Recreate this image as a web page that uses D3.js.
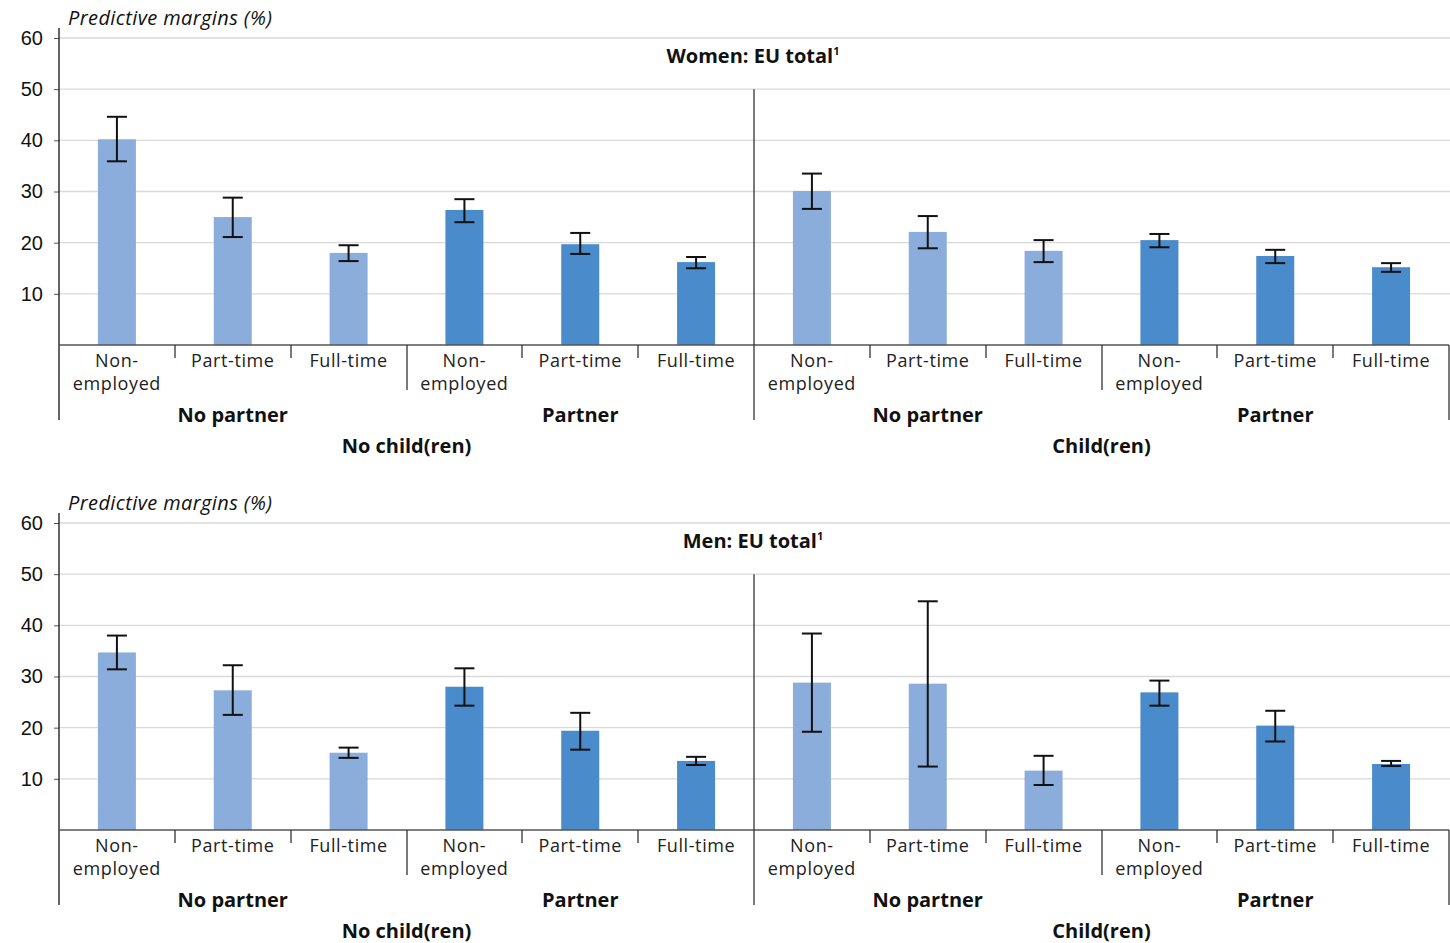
<!DOCTYPE html>
<html>
<head>
<meta charset="utf-8">
<script src="https://cdn.jsdelivr.net/npm/d3@7"></script>
<style>
  body { margin: 0; background: #fff; }
  svg { font-family: "Open Sans", "Noto Sans", sans-serif; }
</style>
</head>
<body>
<svg id="chart" width="1450" height="943"></svg>
<script>
// CATEGORY LABELS
var categories = ['Non-employed', 'Part-time', 'Full-time', 'Non-employed', 'Part-time', 'Full-time',
                  'Non-employed', 'Part-time', 'Full-time', 'Non-employed', 'Part-time', 'Full-time'];
var subgroups = ['No partner', 'Partner', 'No partner', 'Partner'];
var groups = ['No child(ren)', 'Child(ren)'];
var yTicks = [10, 20, 30, 40, 50, 60];

// WOMEN VALUES
var womenValues = [40.2, 25.0, 18.0, 26.4, 19.7, 16.2, 30.1, 22.1, 18.4, 20.5, 17.4, 15.2];
var womenLow    = [35.9, 21.1, 16.4, 24.0, 17.8, 15.0, 26.6, 18.9, 16.2, 19.1, 16.0, 14.3];
var womenHigh   = [44.6, 28.8, 19.5, 28.5, 21.9, 17.2, 33.5, 25.2, 20.5, 21.7, 18.6, 16.0];

// MEN VALUES
var menValues = [34.7, 27.3, 15.1, 28.0, 19.4, 13.5, 28.8, 28.6, 11.6, 26.9, 20.4, 12.9];
var menLow    = [31.4, 22.5, 14.1, 24.3, 15.7, 12.7, 19.2, 12.4, 8.8, 24.3, 17.3, 12.5];
var menHigh   = [38.0, 32.2, 16.1, 31.6, 22.9, 14.3, 38.4, 44.7, 14.5, 29.2, 23.3, 13.5];

// SETTINGS
var settings = {
   left: 59, right: 1449,
   top: 38, base: 345,
   light: '#8aaddc', dark: '#4a8bcb',
   grid: '#d9d9d9'
};

var svg = d3.select('#chart');

// DRAW ONE PANEL
function drawPanel(offset, title, values, low, high) {

   var g = svg.append('g').attr('transform', 'translate(0,' + offset + ')');

   // SCALES
   var y = d3.scaleLinear().domain([0, 60]).range([settings.base, settings.top]);
   var x = d3.scaleBand().domain(d3.range(12)).range([settings.left, settings.right]);
   var step = x.step();
   var bw = 38;

   // GRIDLINES
   g.selectAll('.grid').data(yTicks).enter().append('line')
      .attr('x1', settings.left).attr('x2', 1450)
      .attr('y1', d => y(d)).attr('y2', d => y(d))
      .attr('stroke', settings.grid).attr('stroke-width', 1.3);

   // Y AXIS
   var yAxis = d3.axisLeft(y).tickValues(yTicks).tickSize(5).tickPadding(10);
   var ax = g.append('g').attr('transform', 'translate(' + settings.left + ',0)').call(yAxis);
   ax.select('.domain').remove();
   ax.selectAll('.tick line').attr('stroke', '#555');
   ax.selectAll('.tick text').attr('font-size', 20).attr('fill', '#111').attr('dx', -1);

   // AXIS LINE
   g.append('line').attr('x1', settings.left).attr('x2', settings.left)
      .attr('y1', 28).attr('y2', 420).attr('stroke', '#111').attr('stroke-width', 1.3);

   // Y LABEL
   g.append('text').attr('x', 68).attr('y', 25)
      .attr('font-size', 20).attr('font-style', 'italic').attr('fill', '#111')
      .attr('letter-spacing', 0.4)
      .text('Predictive margins (%)');

   // TITLE
   var t = g.append('text').attr('x', (settings.left + settings.right) / 2 - 1).attr('y', 63)
      .attr('text-anchor', 'middle').attr('font-size', 20).attr('font-weight', 'bold').attr('fill', '#111');
   t.append('tspan').text(title);
   t.append('tspan').attr('font-size', 11).attr('dy', -8).text('1');

   // BARS
   g.selectAll('.bar').data(values).enter().append('rect')
      .attr('x', (d, i) => x(i) + step / 2 - bw / 2)
      .attr('y', d => y(d))
      .attr('width', bw)
      .attr('height', d => settings.base - y(d))
      .attr('fill', (d, i) => (Math.floor(i / 3) % 2 == 0) ? settings.light : settings.dark);

   // ERROR BARS
   var eb = g.selectAll('.err').data(values).enter().append('g');
   eb.append('line')
      .attr('x1', (d, i) => x(i) + step / 2).attr('x2', (d, i) => x(i) + step / 2)
      .attr('y1', (d, i) => y(low[i])).attr('y2', (d, i) => y(high[i]))
      .attr('stroke', '#111').attr('stroke-width', 2);
   [low, high].forEach(arr => {
      eb.append('line')
         .attr('x1', (d, i) => x(i) + step / 2 - 10).attr('x2', (d, i) => x(i) + step / 2 + 10)
         .attr('y1', (d, i) => y(arr[i])).attr('y2', (d, i) => y(arr[i]))
         .attr('stroke', '#111').attr('stroke-width', 2);
   });

   // BASELINE
   g.append('line').attr('x1', settings.left).attr('x2', settings.right)
      .attr('y1', settings.base).attr('y2', settings.base)
      .attr('stroke', '#555').attr('stroke-width', 1.5);

   // CATEGORY SEPARATORS
   d3.range(1, 13).forEach(i => {
      var xx = Math.round(x(0) + step * i);
      var y2 = settings.base + 13;
      if (i % 3 == 0) y2 = 390;
      if (i % 6 == 0) y2 = 420;
      var y1 = (i == 6) ? y(50) : settings.base;
      g.append('line').attr('x1', xx).attr('x2', xx).attr('y1', y1).attr('y2', y2)
         .attr('stroke', '#333').attr('stroke-width', 1.3);
   });

   // CATEGORY LABELS
   categories.forEach((c, i) => {
      var cx = x(i) + step / 2;
      var lt = g.append('text').attr('x', cx).attr('y', 367)
         .attr('text-anchor', 'middle').attr('font-size', 18).attr('fill', '#222')
         .attr('letter-spacing', 0.6);
      if (c == 'Non-employed') {
         lt.append('tspan').attr('x', cx).text('Non-');
         lt.append('tspan').attr('x', cx).attr('dy', 23).text('employed');
      } else {
         lt.text(c);
      }
   });

   // SUBGROUP LABELS
   subgroups.forEach((s, i) => {
      g.append('text').attr('x', x(i * 3) + step * 1.5).attr('y', 422)
         .attr('text-anchor', 'middle').attr('font-size', 20).attr('font-weight', 'bold').attr('fill', '#111')
         .text(s);
   });

   // GROUP LABELS
   groups.forEach((s, i) => {
      g.append('text').attr('x', x(i * 6) + step * 3).attr('y', 453)
         .attr('text-anchor', 'middle').attr('font-size', 20).attr('font-weight', 'bold').attr('fill', '#111')
         .text(s);
   });
}

drawPanel(0, 'Women: EU total', womenValues, womenLow, womenHigh);
drawPanel(485, 'Men: EU total', menValues, menLow, menHigh);
</script>
</body>
</html>
